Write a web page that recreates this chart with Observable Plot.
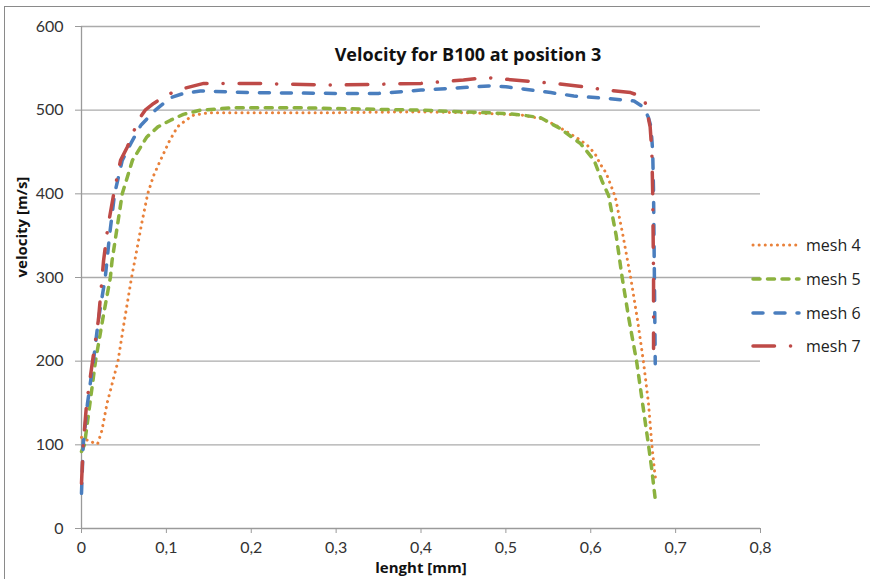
<!DOCTYPE html>
<html><head><meta charset="utf-8">
<script src="https://cdn.jsdelivr.net/npm/d3@7"></script>
<script src="https://cdn.jsdelivr.net/npm/@observablehq/plot@0.6"></script>
<style>
body{margin:0;background:#fff;overflow:hidden;font-family:Lato,sans-serif;}
#wrap{position:relative;width:870px;height:579px;overflow:hidden;background:#fff;}
#frame{position:absolute;left:4px;top:6px;width:900px;height:700px;border:1.5px solid #8a8a8a;pointer-events:none;}
#legend{position:absolute;left:0;top:0;pointer-events:none;}
</style></head><body><div id="wrap"><div id="chart"></div><div id="frame"></div><svg id="legend" width="870" height="579"></svg></div>
<script>
const title = "Velocity for B100 at position 3";
const xLabel = "lenght [mm]";
const yLabel = "velocity [m/s]";
const xTicks = [0, 0.1, 0.2, 0.3, 0.4, 0.5, 0.6, 0.7, 0.8];
const yTicks = [0, 100, 200, 300, 400, 500, 600];
const seriesNames = ["mesh 4", "mesh 5", "mesh 6", "mesh 7"];
const seriesColors = ["#E9813A", "#8CB23F", "#4A7EBE", "#BE4A47"];
const seriesDash = ["0.1,6", "7,7.5", "10,12", "21.5,16,0.1,16"];
const seriesWidth = [3, 3.5, 3.5, 3.5];

const mesh4X = [0, 0.01, 0.019, 0.024, 0.03, 0.043, 0.05, 0.059, 0.065, 0.071, 0.078, 0.085, 0.093, 0.103, 0.113, 0.123, 0.132, 0.15, 0.2, 0.3, 0.4, 0.45, 0.5, 0.52, 0.541, 0.557, 0.572, 0.585, 0.596, 0.605, 0.611, 0.618, 0.623, 0.629, 0.638, 0.647, 0.655, 0.662, 0.668, 0.672, 0.675, 0.677];
const mesh4Y = [109, 104, 101, 117, 149, 200, 245, 300, 332, 365, 400, 422, 440, 462, 480, 488, 494, 497, 497, 497, 498, 497, 495, 494, 490, 483, 474, 466, 458, 448, 436, 425, 412, 396, 350, 300, 250, 200, 150, 100, 70, 55];

const mesh5X = [0, 0.0035, 0.01, 0.0165, 0.025, 0.034, 0.036, 0.048, 0.06, 0.077, 0.09, 0.105, 0.12, 0.14, 0.18, 0.25, 0.3, 0.4, 0.45, 0.5, 0.52, 0.541, 0.564, 0.588, 0.604, 0.613, 0.621, 0.63, 0.637, 0.645, 0.654, 0.661, 0.668, 0.672, 0.676];
const mesh5Y = [92, 100, 150, 200, 250, 300, 320, 400, 440, 468, 480, 488, 495, 500, 503, 503, 502, 500, 498, 496, 494, 491, 478, 460, 440, 416, 398, 350, 300, 250, 200, 150, 100, 70, 35];

const mesh6X = [0, 0.002, 0.007, 0.014, 0.02, 0.028, 0.033, 0.039, 0.048, 0.058, 0.07, 0.087, 0.105, 0.12, 0.14, 0.2, 0.3, 0.35, 0.4, 0.45, 0.48, 0.5, 0.553, 0.58, 0.62, 0.651, 0.663, 0.668, 0.671, 0.673, 0.674, 0.675, 0.676];
const mesh6Y = [42, 100, 149, 200, 250, 300, 350, 400, 440, 460, 482, 500, 515, 520, 523, 521, 520, 520, 524, 527, 529, 528, 521, 517, 514, 511, 503, 491, 480, 450, 400, 300, 197];

const mesh7X = [0, 0.002, 0.006, 0.013, 0.02, 0.026, 0.031, 0.038, 0.046, 0.054, 0.067, 0.075, 0.085, 0.1, 0.117, 0.144, 0.2, 0.3, 0.4, 0.45, 0.476, 0.5, 0.556, 0.584, 0.619, 0.647, 0.663, 0.666, 0.67, 0.672, 0.673, 0.674, 0.674];
const mesh7Y = [54, 100, 149, 200, 250, 320, 360, 400, 440, 456, 488, 500, 508, 518, 525, 532, 532, 530, 532, 536, 539, 537, 532, 529, 524, 521, 515, 500, 480, 450, 400, 300, 215];

const allX = [mesh4X, mesh5X, mesh6X, mesh7X];
const allY = [mesh4Y, mesh5Y, mesh6Y, mesh7Y];
const tickFormat = d => d === 0 ? "0" : d3.format(".1f")(d).replace(".", ",");

const lineMarks = seriesNames.map((name, i) =>
  Plot.line(allX[i].map((x, j) => ({x, y: allY[i][j]})), {
    x: "x", y: "y",
    stroke: seriesColors[i],
    strokeWidth: seriesWidth[i],
    strokeDasharray: seriesDash[i],
    strokeLinecap: "round",
    strokeLinejoin: "round"
  })
);

const chart = Plot.plot({
  width: 870, height: 579,
  marginLeft: 81, marginRight: 110, marginTop: 26, marginBottom: 51,
  style: {fontFamily: "Lato, sans-serif", fontSize: "16px", background: "transparent", color: "#333"},
  x: {domain: [0, 0.8]},
  y: {domain: [0, 600]},
  marks: [
    Plot.ruleY(yTicks.filter(d => d > 0), {stroke: "#ababab", strokeWidth: 1.3}),
    Plot.ruleX([0], {stroke: "#9a9a9a", strokeWidth: 1.3}),
    Plot.ruleY([0], {stroke: "#9a9a9a", strokeWidth: 1.3}),
    Plot.axisX(xTicks, {tickFormat, tickSize: 5, tickPadding: 8, stroke: "#9a9a9a", fill: "#333", label: null, fontSize: 16}),
    Plot.axisY(yTicks, {tickSize: 6, tickPadding: 12, stroke: "#9a9a9a", fill: "#333", label: null, fontSize: 16}),
    ...lineMarks,
    Plot.text([title], {frameAnchor: "top", dx: 47, dy: 22, fontWeight: "bold", fontSize: 18, fontFamily: "Open Sans, sans-serif", fill: "#111"}),
    Plot.text([xLabel], {frameAnchor: "bottom", dy: 44, fontWeight: "bold", fontSize: 15, fontFamily: "Open Sans, sans-serif", fill: "#111"}),
    Plot.text([yLabel], {frameAnchor: "left", dx: -59, rotate: -90, fontWeight: "bold", fontSize: 15, fontFamily: "Open Sans, sans-serif", fill: "#111"})
  ]
});
document.getElementById("chart").append(chart);

// legend
const legendY = [245, 279, 313, 346];
const lg = d3.select("#legend");
seriesNames.forEach((name, i) => {
  lg.append("line").attr("x1", 753).attr("x2", 799).attr("y1", legendY[i]).attr("y2", legendY[i])
    .attr("stroke", seriesColors[i]).attr("stroke-width", seriesWidth[i])
    .attr("stroke-dasharray", seriesDash[i]).attr("stroke-linecap", "round");
  lg.append("text").attr("x", 806).attr("y", legendY[i]).attr("dy", "0.35em")
    .attr("font-family", "Open Sans, sans-serif").attr("font-size", 16).attr("fill", "#222").text(name);
});
</script>
</body></html>
